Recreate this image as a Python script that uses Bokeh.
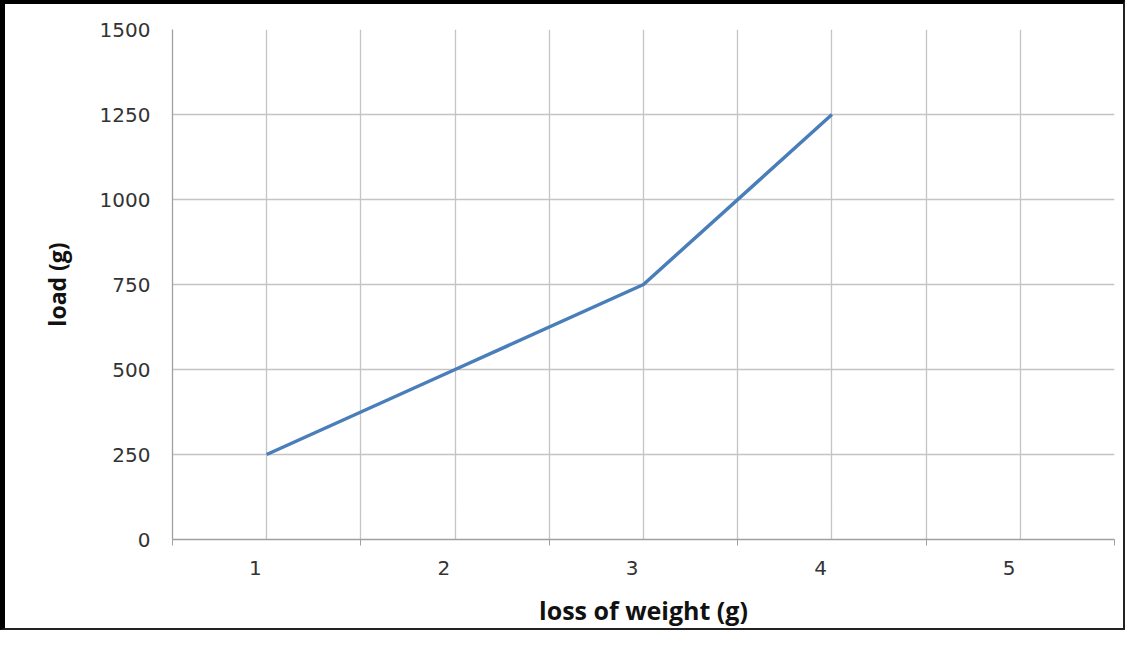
from bokeh.plotting import figure
from bokeh.models import FixedTicker, Range1d
from bokeh.embed import file_html
from bokeh.resources import INLINE

# data
loss_of_weight = [1, 2, 3, 4]
load = [250, 500, 750, 1250]
x_categories = [1, 2, 3, 4, 5]
y_ticks = [0, 250, 500, 750, 1000, 1250, 1500]

W, H = 1125, 630
FL, FT, FW, FH = 167, 25, 942, 510
p = figure(width=W, height=H, output_backend="svg", toolbar_location=None,
           x_range=Range1d(0.5, 5.5), y_range=Range1d(0, 1500),
           min_border_left=FL, min_border_right=W - FL - FW,
           min_border_top=FT, min_border_bottom=H - FT - FH)
p.outline_line_color = None
p.background_fill_color = "white"
p.border_fill_color = "white"
p.styles = {"border-left": "5px solid black", "border-top": "4px solid black",
            "border-right": "2px solid #222", "border-bottom": "2px solid #222"}

# grids
bounds = [c - 0.5 for c in x_categories] + [x_categories[-1] + 0.5]
p.xgrid.ticker = FixedTicker(ticks=sorted(bounds + x_categories))
p.ygrid.ticker = FixedTicker(ticks=y_ticks)
for g in (p.xgrid, p.ygrid):
    g.grid_line_color = "#c4c4c4"
    g.grid_line_width = 1.3

# x axis
label_shift = -0.06
xt = [round(c + label_shift, 3) for c in x_categories]
p.xaxis.ticker = FixedTicker(ticks=xt, minor_ticks=bounds)
p.xaxis.major_label_overrides = {t: str(c) for t, c in zip(xt, x_categories)}
p.xaxis.major_tick_line_color = None
p.xaxis.major_tick_out = 0
p.xaxis.major_tick_in = 0
p.xaxis.minor_tick_line_color = "#a0a0a0"
p.xaxis.minor_tick_out = 6
p.xaxis.minor_tick_in = 0
p.xaxis.axis_line_color = "#a0a0a0"
p.xaxis.axis_line_width = 1.3
p.xaxis.axis_label = "loss of weight (g)"

# y axis
p.yaxis.ticker = FixedTicker(ticks=y_ticks)
p.yaxis.major_tick_line_color = None
p.yaxis.major_tick_out = 0
p.yaxis.major_tick_in = 0
p.yaxis.minor_tick_line_color = None
p.yaxis.axis_line_color = "#a0a0a0"
p.yaxis.axis_line_width = 1.3
p.yaxis.axis_label = "load (g)"

for ax in (p.xaxis, p.yaxis):
    ax.major_label_text_font = "DejaVu Sans"
    ax.major_label_text_font_size = "20px"
    ax.major_label_text_color = "#333333"
    ax.axis_label_text_font = "Open Sans"
    ax.axis_label_text_font_style = "bold"
    ax.axis_label_text_color = "#111111"

p.xaxis.axis_label_text_font_size = "25px"
p.yaxis.axis_label_text_font_size = "23px"
p.xaxis.major_label_standoff = 15
p.xaxis.axis_label_standoff = 15
p.yaxis.major_label_standoff = 22
p.yaxis.axis_label_standoff = 24

p.line(loss_of_weight, load, line_color="#4a7ebb", line_width=3.5)

open("out.html", "w").write(file_html(p, INLINE))
